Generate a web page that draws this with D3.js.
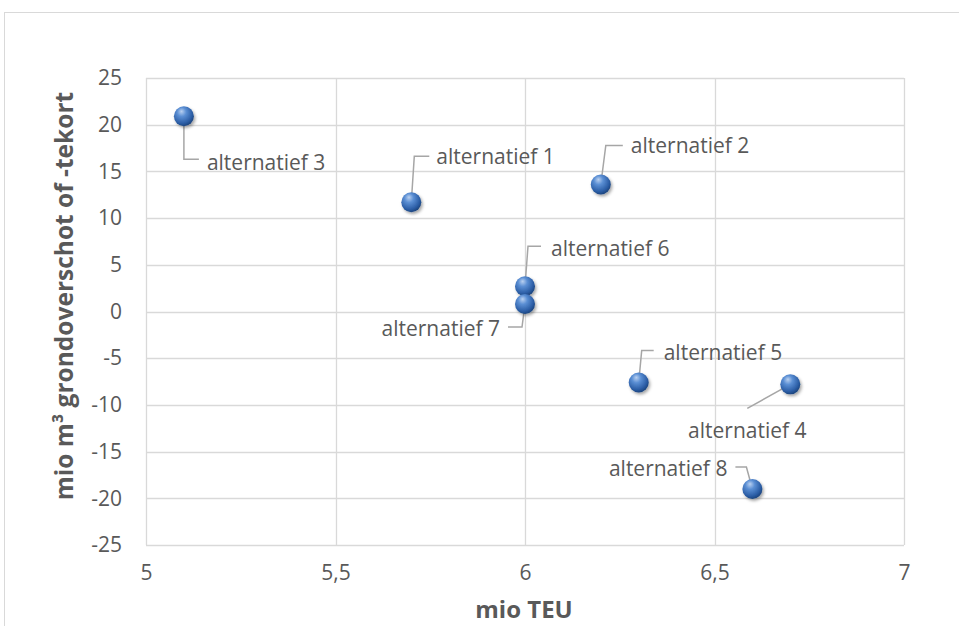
<!DOCTYPE html>
<html><head><meta charset="utf-8">
<script src="https://cdn.jsdelivr.net/npm/d3@7"></script>
<style>body{margin:0;background:#fff}svg{display:block}text{font-family:"Open Sans",sans-serif;fill:#595959}</style>
</head><body>
<script>
const names = ["alternatief 1","alternatief 2","alternatief 3","alternatief 4","alternatief 5","alternatief 6","alternatief 7","alternatief 8"];
const teu = [5.7, 6.2, 5.1, 6.7, 6.3, 6.0, 6.0, 6.6];
const grond = [11.7, 13.6, 20.9, -7.8, -7.6, 2.7, 0.8, -19.0];
const xTicks = [5, 5.5, 6, 6.5, 7];
const yTicks = [-25, -20, -15, -10, -5, 0, 5, 10, 15, 20, 25];
const xTitle = "mio TEU";
const yTitle = "mio m³ grondoverschot of -tekort";

// label layout (pixel offsets from the point): leader path & text placement
const layout = {
  "alternatief 1": {path:[[3,-46],[18,-46]], tx:25, ty:-46, anchor:"start"},
  "alternatief 2": {path:[[5,-39],[22,-39]], tx:30, ty:-39, anchor:"start"},
  "alternatief 3": {path:[[0,43],[15,43]], tx:23, ty:46, anchor:"start"},
  "alternatief 4": {path:[[-43,24]], tx:-43, ty:46, anchor:"middle"},
  "alternatief 5": {path:[[3,-32],[15,-32]], tx:25, ty:-30, anchor:"start"},
  "alternatief 6": {path:[[3,-40],[16,-40]], tx:26, ty:-38, anchor:"start"},
  "alternatief 7": {path:[[-3,23],[-17,23]], tx:-25, ty:25, anchor:"end"},
  "alternatief 8": {path:[[-6,-22],[-17,-22]], tx:-25, ty:-20, anchor:"end"}
};

(function(){
const W = 959, H = 626;
const svg = d3.select("body").append("svg").attr("width", W).attr("height", H);

svg.append("rect").attr("x", 4.5).attr("y", 12.5).attr("width", 1000).attr("height", 700)
  .attr("fill", "#fff").attr("stroke", "#d9d9d9").attr("stroke-width", 1);

const pL = 146, pR = 904, pT = 78, pB = 545;
const x = d3.scaleLinear().domain([5, 7]).range([pL, pR]);
const y = d3.scaleLinear().domain([-25, 25]).range([pB, pT]);

const defs = svg.append("defs");
const rg = defs.append("radialGradient").attr("id", "ball").attr("cx", "40%").attr("cy", "35%").attr("r", "65%").attr("fx", "38%").attr("fy", "25%");
rg.append("stop").attr("offset", "0%").attr("stop-color", "#b9d0f0");
rg.append("stop").attr("offset", "35%").attr("stop-color", "#5b8fd4");
rg.append("stop").attr("offset", "80%").attr("stop-color", "#2c5ea6");
rg.append("stop").attr("offset", "100%").attr("stop-color", "#1d4680");
const f = defs.append("filter").attr("id", "sh").attr("x", "-50%").attr("y", "-50%").attr("width", "200%").attr("height", "200%");
f.append("feDropShadow").attr("dx", 1.5).attr("dy", 2).attr("stdDeviation", 1.8).attr("flood-color", "#000").attr("flood-opacity", 0.35);

const g = svg.append("g");
g.selectAll(".gx").data(xTicks).join("line")
  .attr("x1", d => Math.round(x(d)) + 0.5).attr("x2", d => Math.round(x(d)) + 0.5)
  .attr("y1", pT).attr("y2", pB).attr("stroke", "#d9d9d9").attr("stroke-width", 1.3);
g.selectAll(".gy").data(yTicks).join("line")
  .attr("y1", d => Math.round(y(d)) + 0.5).attr("y2", d => Math.round(y(d)) + 0.5)
  .attr("x1", pL).attr("x2", pR).attr("stroke", "#d9d9d9").attr("stroke-width", 1.3);

const fmt = d => String(d).replace(".", ",");
const xa = svg.append("g").attr("transform", `translate(0,${pB})`)
  .call(d3.axisBottom(x).tickValues(xTicks).tickFormat(fmt).tickSize(0).tickPadding(20));
xa.select(".domain").remove();
xa.selectAll("text").style("font-size", "21px").style("fill", "#595959").attr("font-family", null);
const ya = svg.append("g").attr("transform", `translate(${pL},0)`)
  .call(d3.axisLeft(y).tickValues(yTicks).tickFormat(fmt).tickSize(0).tickPadding(24));
ya.select(".domain").remove();
ya.selectAll("text").style("font-size", "21px").style("fill", "#595959").attr("font-family", null);

svg.append("text").attr("x", 524).attr("y", 618).attr("text-anchor", "middle")
  .style("font-size", "24px").style("font-weight", "bold").text(xTitle);
svg.append("text").attr("transform", `translate(73,296) rotate(-90)`).attr("text-anchor", "middle")
  .style("font-size", "24.5px").style("font-weight", "bold").text(yTitle);

const pts = names.map((n, i) => ({n, px: x(teu[i]), py: y(grond[i])}));

svg.append("g").selectAll("path").data(pts).join("path")
  .attr("d", d => {
    const L = layout[d.n];
    return "M" + d.px + "," + d.py + L.path.map(p => "L" + (d.px + p[0]) + "," + (d.py + p[1])).join("");
  })
  .attr("fill", "none").attr("stroke", "#a6a6a6").attr("stroke-width", 1.5);

svg.append("g").selectAll("text").data(pts).join("text")
  .attr("x", d => d.px + layout[d.n].tx).attr("y", d => d.py + layout[d.n].ty)
  .attr("dy", "0.35em").attr("text-anchor", d => layout[d.n].anchor)
  .style("font-size", "21px").text(d => d.n);

svg.append("g").selectAll("circle").data(pts).join("circle")
  .attr("cx", d => d.px).attr("cy", d => d.py).attr("r", 10)
  .attr("fill", "url(#ball)").attr("filter", "url(#sh)");
})();
</script>
</body></html>
